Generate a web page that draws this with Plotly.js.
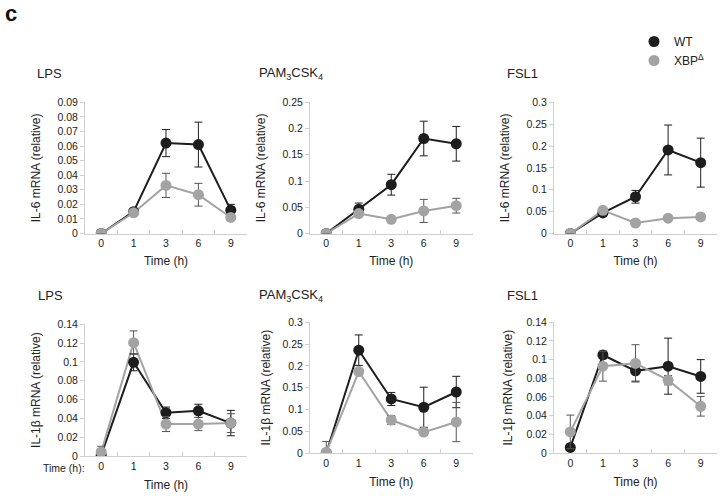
<!DOCTYPE html>
<html>
<head>
<meta charset="utf-8">
<script src="https://cdn.plot.ly/plotly-3.0.1.min.js"></script>
<style>html,body{margin:0;padding:0;background:#fff;}#chart{width:723px;height:496px;}</style>
</head>
<body>
<div id="chart"></div>
<script>
// ---- data ----
const times = ['0', '1', '3', '6', '9'];
const seriesNames = ['WT', 'XBP<sup>Δ</sup>'];
const stimuli = ['LPS', 'PAM<sub>3</sub>CSK<sub>4</sub>', 'FSL1'];
const genes = ['IL-6 mRNA (relative)', 'IL-1β mRNA (relative)'];

const il6LpsWT = [0, 0.015, 0.062, 0.061, 0.016];
const il6LpsWTErr = [0.0005, 0.001, 0.0093, 0.0154, 0.004];
const il6LpsXBP = [0, 0.0142, 0.033, 0.0266, 0.011];
const il6LpsXBPErr = [0.0005, 0.0015, 0.0083, 0.0078, 0.002];

const il6PamWT = [0, 0.046, 0.093, 0.181, 0.171];
const il6PamWTErr = [0.001, 0.012, 0.0198, 0.033, 0.033];
const il6PamXBP = [0, 0.038, 0.027, 0.043, 0.053];
const il6PamXBPErr = [0.001, 0.005, 0.003, 0.022, 0.014];

const il6FslWT = [0, 0.047, 0.084, 0.191, 0.162];
const il6FslWTErr = [0.001, 0.008, 0.0145, 0.057, 0.056];
const il6FslXBP = [0, 0.053, 0.024, 0.035, 0.038];
const il6FslXBPErr = [0.001, 0.005, 0.004, 0.003, 0.007];

const il1bLpsWT = [0.001, 0.0996, 0.046, 0.048, 0.035];
const il1bLpsWTErr = [0.001, 0.009, 0.006, 0.007, 0.0135];
const il1bLpsXBP = [0.0043, 0.1205, 0.034, 0.034, 0.035];
const il1bLpsXBPErr = [0.006, 0.0125, 0.008, 0.007, 0.01];

const il1bPamWT = [0, 0.236, 0.124, 0.105, 0.140];
const il1bPamWTErr = [0.002, 0.035, 0.015, 0.046, 0.036];
const il1bPamXBP = [0.0015, 0.187, 0.0756, 0.048, 0.071];
const il1bPamXBPErr = [0.025, 0.005, 0.01, 0.008, 0.045];

const il1bFslWT = [0.006, 0.105, 0.088, 0.093, 0.082];
const il1bFslWTErr = [0.002, 0.004, 0.011, 0.03, 0.018];
const il1bFslXBP = [0.0226, 0.093, 0.096, 0.078, 0.050];
const il1bFslXBPErr = [0.018, 0.016, 0.02, 0.005, 0.0105];

const yMax = [0.09, 0.25, 0.3, 0.14, 0.3, 0.14];
const yStep = [0.01, 0.05, 0.05, 0.02, 0.05, 0.02];

// ---- layout helpers ----
const W = 723, H = 496;
const px = v => v / W;
const py = v => 1 - v / H;

const panels = [
  {wt: il6LpsWT, wtE: il6LpsWTErr, xb: il6LpsXBP, xbE: il6LpsXBPErr, gene: 0, stim: 0},
  {wt: il6PamWT, wtE: il6PamWTErr, xb: il6PamXBP, xbE: il6PamXBPErr, gene: 0, stim: 1},
  {wt: il6FslWT, wtE: il6FslWTErr, xb: il6FslXBP, xbE: il6FslXBPErr, gene: 0, stim: 2},
  {wt: il1bLpsWT, wtE: il1bLpsWTErr, xb: il1bLpsXBP, xbE: il1bLpsXBPErr, gene: 1, stim: 0},
  {wt: il1bPamWT, wtE: il1bPamWTErr, xb: il1bPamXBP, xbE: il1bPamXBPErr, gene: 1, stim: 1},
  {wt: il1bFslWT, wtE: il1bFslWTErr, xb: il1bFslXBP, xbE: il1bFslXBPErr, gene: 1, stim: 2}
];

const xDom = [[px(85), px(247)], [px(310), px(472.5)], [px(554), px(717)]];
const yDomRows = [[py(233.5), py(102.3)], [py(453), py(322.3)]];
const yDomBL = [py(456), py(324.3)];
const titlePos = [[35, 74], [256.7, 74], [505, 73], [36, 295], [256.7, 295], [505, 295]];
const yTitleStandoff = [14, 14, 14, 14, 9, 11];

const FONT = 'Liberation Sans, Arial, sans-serif';
const WT_COLOR = '#1d1d1d', XB_COLOR = '#a3a3a3';
const WT_ERR = '#1d1d1d', XB_ERR = '#555555';
const AX_COLOR = '#cfcfcf';

const data = [];
const layout = {
  width: W, height: H,
  margin: {l: 0, r: 0, t: 0, b: 0},
  paper_bgcolor: '#fff', plot_bgcolor: '#fff',
  font: {family: FONT, size: 10.5, color: '#222'},
  showlegend: true,
  legend: {x: px(634), y: py(27), xanchor: 'left', yanchor: 'top',
           font: {size: 12, color: '#222'}, tracegroupgap: 0, bgcolor: 'rgba(0,0,0,0)'},
  annotations: [
    {text: '<b>c</b>', xref: 'paper', yref: 'paper', x: px(3), y: py(13), xanchor: 'left', yanchor: 'middle',
     showarrow: false, font: {size: 22, color: '#111', family: FONT}},
    {text: 'Time (h):', xref: 'paper', yref: 'paper', x: px(87), y: py(468), xanchor: 'right', yanchor: 'middle',
     showarrow: false, font: {size: 10.5, color: '#222', family: FONT}}
  ]
};

panels.forEach((p, i) => {
  const n = i + 1;
  const xa = 'x' + (n === 1 ? '' : n), ya = 'y' + (n === 1 ? '' : n);
  const row = p.gene, col = p.stim;
  const series = [[p.wt, p.wtE, WT_COLOR, WT_ERR, 0], [p.xb, p.xbE, XB_COLOR, XB_ERR, 1]];
  series.forEach(s => {
    data.push({x: times, y: s[0], xaxis: xa, yaxis: ya, type: 'scatter', mode: 'lines',
               line: {color: s[2], width: 2}, showlegend: false, hoverinfo: 'skip'});
  });
  series.forEach(s => {
    data.push({x: times, y: s[0], xaxis: xa, yaxis: ya, type: 'scatter', mode: 'markers',
               name: seriesNames[s[4]], legendgroup: 'g' + s[4], showlegend: i === 0,
               marker: {color: s[2], size: 11, symbol: 'circle'},
               error_y: {type: 'data', array: s[1], visible: true, color: s[3], thickness: 1, width: 4}});
  });
  layout['xaxis' + (n === 1 ? '' : n)] = {
    domain: xDom[col], anchor: ya, type: 'category', categoryorder: 'array', categoryarray: times,
    range: [-0.5, 4.5], tickson: 'boundaries', ticks: 'inside', ticklen: 4, tickcolor: AX_COLOR,
    showline: true, linecolor: AX_COLOR, linewidth: 1, showgrid: false, zeroline: false,
    tickfont: {size: 10.5, color: '#222'}, fixedrange: true,
    title: {text: 'Time (h)', font: {size: 12, color: '#222'}, standoff: row === 0 ? 8 : 10}
  };
  layout['yaxis' + (n === 1 ? '' : n)] = {
    domain: (i === 3) ? yDomBL : yDomRows[row], anchor: xa,
    range: [0, yMax[i]], dtick: yStep[i], tick0: 0, ticks: 'outside', ticklen: 4, tickcolor: AX_COLOR,
    showline: true, linecolor: AX_COLOR, linewidth: 1, showgrid: false, zeroline: false,
    tickfont: {size: 10.5, color: '#222'}, fixedrange: true,
    title: {text: genes[row], font: {size: 12, color: '#222'}, standoff: yTitleStandoff[i]}
  };
  layout.annotations.push({text: stimuli[col], xref: 'paper', yref: 'paper',
    x: px(titlePos[i][0]), y: py(titlePos[i][1]), xanchor: 'left', yanchor: 'middle',
    showarrow: false, font: {size: 13, color: '#222', family: FONT}});
});

Plotly.newPlot('chart', data, layout, {displayModeBar: false, staticPlot: true});
</script>
</body>
</html>
